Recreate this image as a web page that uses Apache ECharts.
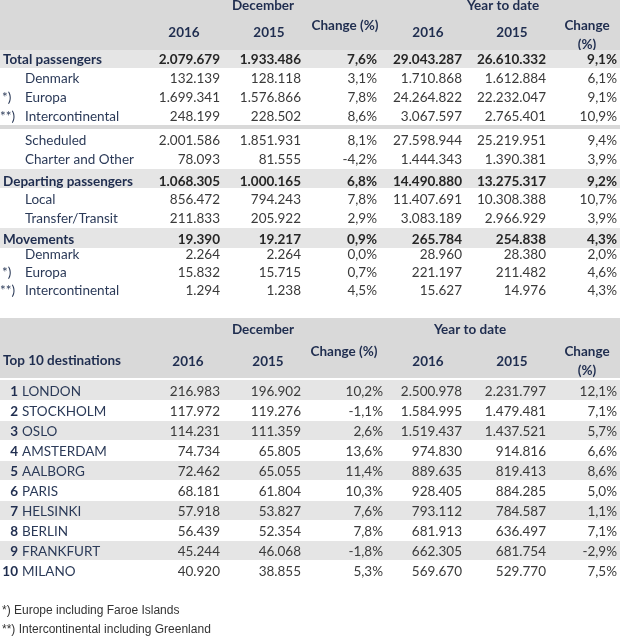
<!DOCTYPE html>
<html>
<head>
<meta charset="utf-8">
<script src="https://cdn.jsdelivr.net/npm/echarts@6/dist/echarts.min.js"></script>
<style>html,body{margin:0;padding:0;background:#fff;}#c{width:620px;height:638px;}</style>
</head>
<body>
<div id="c"></div>
<script>
// ---------------- DATA ----------------
const topLabels = ['Total passengers','Denmark','Europa','Intercontinental','Scheduled','Charter and Other','Departing passengers','Local','Transfer/Transit','Movements','Denmark','Europa','Intercontinental'];
const topMarks = ['','','*)','**)','','','','','','','','*)','**)'];
const topBoldRows = [0, 6, 9];
const topDec2016 = [2079679,132139,1699341,248199,2001586,78093,1068305,856472,211833,19390,2264,15832,1294];
const topDec2015 = [1933486,128118,1576866,228502,1851931,81555,1000165,794243,205922,19217,2264,15715,1238];
const topDecChange = [7.6,3.1,7.8,8.6,8.1,-4.2,6.8,7.8,2.9,0.9,0.0,0.7,4.5];
const topYtd2016 = [29043287,1710868,24264822,3067597,27598944,1444343,14490880,11407691,3083189,265784,28960,221197,15627];
const topYtd2015 = [26610332,1612884,22232047,2765401,25219951,1390381,13275317,10308388,2966929,254838,28380,211482,14976];
const topYtdChange = [9.1,6.1,9.1,10.9,9.4,3.9,9.2,10.7,3.9,4.3,2.0,4.6,4.3];

const destCities = ['LONDON','STOCKHOLM','OSLO','AMSTERDAM','AALBORG','PARIS','HELSINKI','BERLIN','FRANKFURT','MILANO'];
const destDec2016 = [216983,117972,114231,74734,72462,68181,57918,56439,45244,40920];
const destDec2015 = [196902,119276,111359,65805,65055,61804,53827,52354,46068,38855];
const destDecChange = [10.2,-1.1,2.6,13.6,11.4,10.3,7.6,7.8,-1.8,5.3];
const destYtd2016 = [2500978,1584995,1519437,974830,889635,928405,793112,681913,662305,569670];
const destYtd2015 = [2231797,1479481,1437521,914816,819413,884285,784587,636497,681754,529770];
const destYtdChange = [12.1,7.1,5.7,6.6,8.6,5.0,1.1,7.1,-2.9,7.5];

const headerGroups = ['December','Year to date'];
const headerYears = ['2016','2015'];
const headerChange = 'Change (%)';
const destTitle = 'Top 10 destinations';
const footnotes = ['*) Europe including Faroe Islands','**) Intercontinental including Greenland'];

// ---------------- LAYOUT / STYLE ----------------
const W = 620, H = 638;
const F = 'Lato, "Noto Sans", sans-serif';
const fsz = 13.5;
const fontR = fsz + 'px ' + F;
const fontB = 'bold ' + fsz + 'px ' + F;
const C = { head: '#1f2d4f', bold: '#1f2d4f', sub: '#2b3a58', num: '#3a3a3a', numB: '#262626', note: '#333333' };
const BG = { head: '#d9d9d9', row: '#e5e5e5' };
const textDy = 1;

const topRowY = [59,78,97,116,140,159,181,199,218,239,254,272,290];
const topCols = { labelB: 3, label: 25, mark: 2, d16: 220, d15: 301, dc: 377, y16: 462, y15: 546, yc: 617 };
const destCols = { rank: 18, city: 22, d16: 220, d15: 301, dc: 383, y16: 462, y15: 546, yc: 617 };
const destRowY0 = 391, destRowH = 20;

const fmtInt = n => String(n).replace(/\B(?=(\d{3})+(?!\d))/g, '.');
const fmtPct = v => v.toFixed(1).replace('.', ',') + '%';

// bands
const headBands = [
  [0, 50, BG.head],
  [318, 378, BG.head]
];
const bodyBands = [
  [50, 68, BG.row],
  [125, 129, BG.head],
  [169, 188, BG.row],
  [228, 248, BG.row]
];
destCities.forEach((c, i) => {
  if (i % 2 === 0) bodyBands.push([destRowY0 - 10 + destRowH * i + (i === 0 ? -1 : 0), destRowY0 + 9 + destRowH * i, BG.row]);
});

// texts
const headTexts = [];
const bodyTexts = [];
function T(arr, x, y, text, font, color, align) { arr.push({ x, y, text, font, color, align }); }

// top header
T(headTexts, 263, 5, headerGroups[0], fontB, C.head, 'center');
T(headTexts, 503, 5, headerGroups[1], fontB, C.head, 'center');
T(headTexts, 184, 32, headerYears[0], fontB, C.head, 'center');
T(headTexts, 269, 32, headerYears[1], fontB, C.head, 'center');
T(headTexts, 345, 25, headerChange, fontB, C.head, 'center');
T(headTexts, 428, 32, headerYears[0], fontB, C.head, 'center');
T(headTexts, 512, 32, headerYears[1], fontB, C.head, 'center');
T(headTexts, 587, 25, 'Change', fontB, C.head, 'center');
T(headTexts, 587, 44, '(%)', fontB, C.head, 'center');

// bottom header
T(headTexts, 263, 329, headerGroups[0], fontB, C.head, 'center');
T(headTexts, 470, 329, headerGroups[1], fontB, C.head, 'center');
T(headTexts, 3, 360, destTitle, fontB, C.head, 'left');
T(headTexts, 188, 361, headerYears[0], fontB, C.head, 'center');
T(headTexts, 268, 361, headerYears[1], fontB, C.head, 'center');
T(headTexts, 344, 351, headerChange, fontB, C.head, 'center');
T(headTexts, 428, 361, headerYears[0], fontB, C.head, 'center');
T(headTexts, 512, 361, headerYears[1], fontB, C.head, 'center');
T(headTexts, 587, 351, 'Change', fontB, C.head, 'center');
T(headTexts, 587, 370, '(%)', fontB, C.head, 'center');

// top body
topLabels.forEach((lab, i) => {
  const y = topRowY[i];
  const b = topBoldRows.indexOf(i) >= 0;
  const nf = b ? fontB : fontR, nc = b ? C.numB : C.num;
  if (b) T(bodyTexts, topCols.labelB, y, lab, fontB, C.bold, 'left');
  else T(bodyTexts, topCols.label, y, lab, fontR, C.sub, 'left');
  if (topMarks[i]) T(bodyTexts, topCols.mark - (topMarks[i].length > 2 ? 2 : 0), y, topMarks[i], fontR, C.sub, 'left');
  T(bodyTexts, topCols.d16, y, fmtInt(topDec2016[i]), nf, nc, 'right');
  T(bodyTexts, topCols.d15, y, fmtInt(topDec2015[i]), nf, nc, 'right');
  T(bodyTexts, topCols.dc, y, fmtPct(topDecChange[i]), nf, nc, 'right');
  T(bodyTexts, topCols.y16, y, fmtInt(topYtd2016[i]), nf, nc, 'right');
  T(bodyTexts, topCols.y15, y, fmtInt(topYtd2015[i]), nf, nc, 'right');
  T(bodyTexts, topCols.yc, y, fmtPct(topYtdChange[i]), nf, nc, 'right');
});

// destinations body
destCities.forEach((city, i) => {
  const y = destRowY0 + destRowH * i;
  T(bodyTexts, destCols.rank, y, String(i + 1), fontB, C.bold, 'right');
  T(bodyTexts, destCols.city, y, city, fontR, C.sub, 'left');
  T(bodyTexts, destCols.d16, y, fmtInt(destDec2016[i]), fontR, C.num, 'right');
  T(bodyTexts, destCols.d15, y, fmtInt(destDec2015[i]), fontR, C.num, 'right');
  T(bodyTexts, destCols.dc, y, fmtPct(destDecChange[i]), fontR, C.num, 'right');
  T(bodyTexts, destCols.y16, y, fmtInt(destYtd2016[i]), fontR, C.num, 'right');
  T(bodyTexts, destCols.y15, y, fmtInt(destYtd2015[i]), fontR, C.num, 'right');
  T(bodyTexts, destCols.yc, y, fmtPct(destYtdChange[i]), fontR, C.num, 'right');
});

// footnotes
const noteFont = '12px "Liberation Sans", Arial, sans-serif';
T(bodyTexts, 2, 610, footnotes[0], noteFont, C.note, 'left');
T(bodyTexts, 2, 629, footnotes[1], noteFont, C.note, 'left');

// ---------------- CHART ----------------
function bandSeries(bands) {
  return {
    type: 'custom', silent: true, clip: false,
    data: bands.map(b => [b[0], b[1]]),
    renderItem: function (params, api) {
      const b = bands[params.dataIndex];
      const p0 = api.coord([0, api.value(0)]);
      const p1 = api.coord([W, api.value(1)]);
      return { type: 'rect', shape: { x: p0[0], y: p0[1], width: p1[0] - p0[0], height: p1[1] - p0[1] }, style: { fill: b[2] } };
    }
  };
}
function textSeries(cells) {
  return {
    type: 'custom', silent: true, clip: false,
    data: cells.map(c => [c.x, c.y]),
    renderItem: function (params, api) {
      const c = cells[params.dataIndex];
      const p = api.coord([api.value(0), api.value(1)]);
      return {
        type: 'text', x: p[0], y: p[1] + textDy,
        style: { text: c.text, font: c.font, fill: c.color, align: c.align, verticalAlign: 'middle', textAlign: c.align, textVerticalAlign: 'middle' }
      };
    }
  };
}

const chart = echarts.init(document.getElementById('c'), null, { renderer: 'canvas' });
chart.setOption({
  animation: false,
  backgroundColor: '#ffffff',
  grid: { left: 0, right: 0, top: 0, bottom: 0 },
  xAxis: { type: 'value', min: 0, max: W, show: false },
  yAxis: { type: 'value', min: 0, max: H, inverse: true, show: false },
  series: [bandSeries(headBands), textSeries(headTexts), bandSeries(bodyBands), textSeries(bodyTexts)]
});
</script>
</body>
</html>
